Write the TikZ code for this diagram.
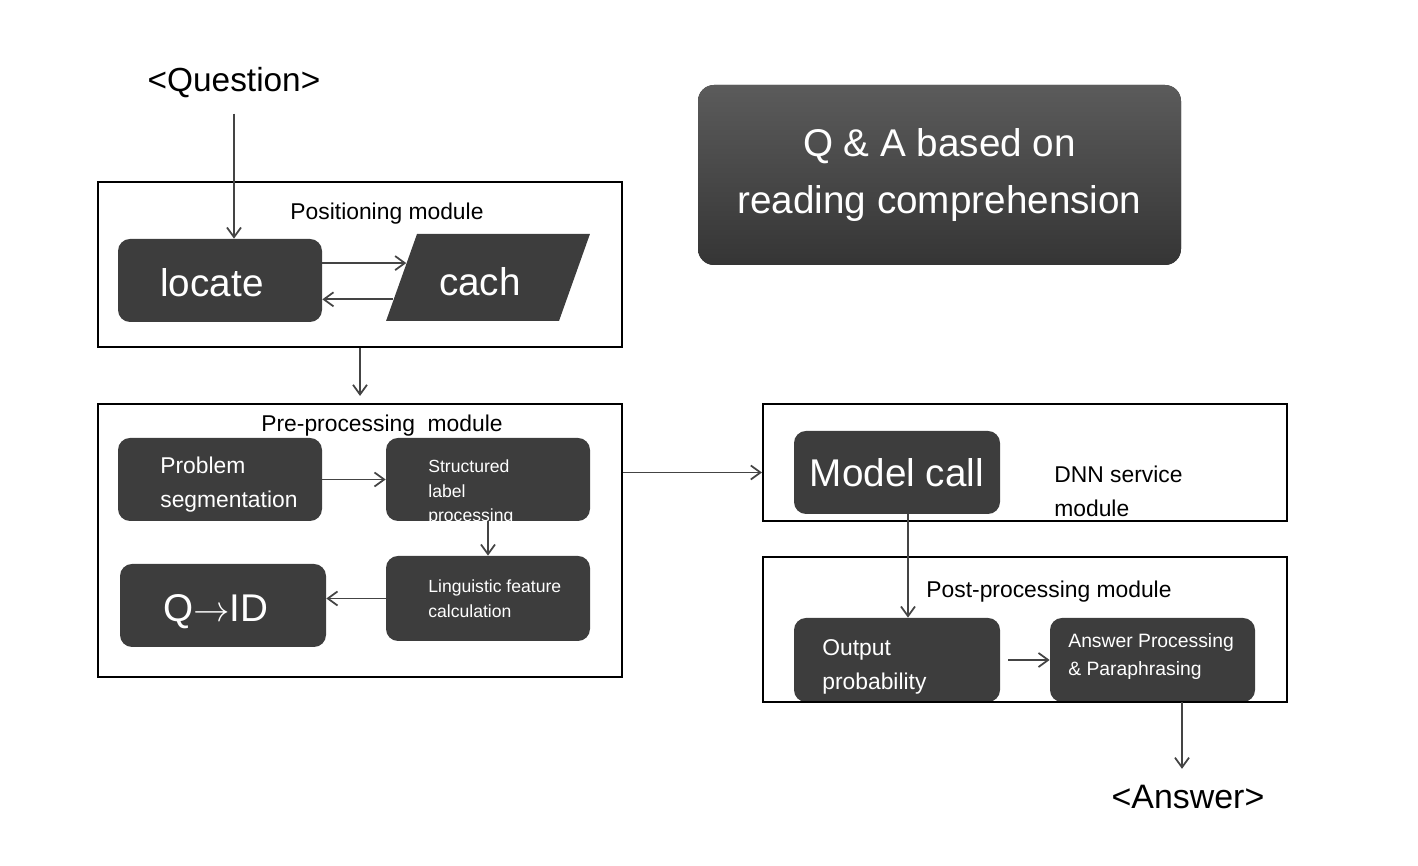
\documentclass[tikz,border=0pt]{standalone}
\usepackage{fontspec}
\setmainfont{Liberation Sans}
\usetikzlibrary{arrows.meta,shapes.geometric}
\definecolor{boxgray}{HTML}{3D3D3D}
\definecolor{arrgray}{HTML}{444444}
\definecolor{titletop}{HTML}{5B5B5B}
\definecolor{titlebot}{HTML}{353535}

\begin{document}
\begin{tikzpicture}[
    frame/.style={draw=black,line width=1.2pt,minimum width=10.48cm},
    dbox/.style={fill=boxgray,rounded corners=0.24cm,minimum width=4.08cm,minimum height=1.66cm},
    arr/.style={-{Straight Barb[length=5.5pt,width=8pt]},draw=arrgray,line width=1pt},
    bigtxt/.style={text=white,font=\fontsize{22}{26}\selectfont,inner sep=0pt},
    midtxt/.style={font=\fontsize{13}{19.3}\selectfont,align=left,inner sep=0pt},
    smalltxt/.style={text=white,font=\fontsize{10}{14.2}\selectfont,align=left,inner sep=0pt}
  ]
  \useasboundingbox (0,0) rectangle (28.36,17.32);

  \node[font=\fontsize{19}{22}\selectfont,inner sep=0pt] (q) at (4.68,15.66) {<Question>};
  \node[font=\fontsize{19.3}{22}\selectfont,inner sep=0pt] (aout) at (23.76,1.38) {<Answer>};

  \node[fill=boxgray,top color=titletop,bottom color=titlebot,rounded corners=0.32cm,
        minimum width=9.66cm,minimum height=3.60cm,text=white,align=center,
        font=\fontsize{22}{32.4}\selectfont] (title) at (18.79,13.82)
        {Q \& A based on\\reading comprehension};

  % positioning
  \node[dbox] (loc) at (4.40,11.71) {};
  \node[bigtxt,anchor=west] (loc-t) at (3.20,11.66) {locate};
  \node[trapezium,trapezium left angle=77.7,trapezium right angle=102.3,trapezium stretches=true,
        fill=boxgray,minimum width=4.08cm,minimum height=1.74cm] (cach) at (9.76,11.77) {};
  \node[bigtxt] (cach-t) at (9.60,11.68) {cach};
  \node[midtxt] (poslbl) at (7.74,13.04) {Positioning module};
  \node[frame,minimum height=3.30cm] (posfr) at (7.20,12.03) {};

  % pre-processing
  \node[dbox] (prob) at (4.40,7.73) {};
  \node[midtxt,text=white,anchor=west] (prob-t) at (3.20,7.62) {Problem\\segmentation};
  \node[dbox] (struct) at (9.76,7.73) {};
  \node[smalltxt,anchor=west] (struct-t) at (8.56,7.47) {Structured\\label\\processing};
  \node[dbox,minimum height=1.70cm] (ling) at (9.76,5.35) {};
  \node[smalltxt,anchor=west] (ling-t) at (8.56,5.35) {Linguistic feature\\calculation};
  \node[dbox,minimum width=4.12cm] (qid) at (4.46,5.21) {};
  \node[bigtxt,anchor=west] (qid-t) at (3.26,5.08) {Q$\rightarrow$ID};
  \node[midtxt] (prelbl) at (7.64,8.80) {Pre-processing\ \ module};
  \node[frame,minimum height=5.46cm] (prefr) at (7.20,6.51) {};

  % DNN service
  \node[dbox,minimum width=4.12cm,bigtxt] (mc) at (17.94,7.87) {Model call};
  \node[midtxt,anchor=west] (dnnlbl) at (21.08,7.49) {DNN service\\module};
  \node[frame,minimum height=2.34cm] (dnnfr) at (20.50,8.07) {};

  % post-processing
  \node[dbox,minimum width=4.12cm,minimum height=1.68cm] (op) at (17.94,4.12) {};
  \node[midtxt,text=white,anchor=west] (op-t) at (16.44,3.98) {Output\\probability};
  \node[dbox,minimum width=4.10cm,minimum height=1.68cm] (ans) at (23.05,4.12) {};
  \node[text=white,font=\fontsize{11}{16}\selectfont,align=left,inner sep=0pt,anchor=west] (ans-t)
        at (21.36,4.19) {Answer Processing\\\& Paraphrasing};
  \node[midtxt] (postlbl) at (20.98,5.48) {Post-processing module};
  \node[frame,minimum height=2.90cm] (postfr) at (20.50,4.73) {};

  \draw[arr,shorten <=0.3cm] (q.south) -- (q.south |- loc.north);
  \draw[arr] (cach.170 -| loc.east) -- (cach.170);
  \draw[arr] (cach.193) -- (cach.193 -| loc.east);
  \draw[arr,shorten >=0.14cm] (posfr.south) -- (prefr.north);
  \draw[arr] (prob.east) -- (struct.west);
  \draw[arr] (struct.south) -- (ling.north);
  \draw[arr] (ling.west) -- (ling.west -| qid.east);
  \draw[arr] (prefr.east |- mc) -- (dnnfr.west |- mc);
  \draw[arr] ([xshift=0.22cm]mc.south) -- ([xshift=0.22cm]op.north);
  \draw[arr,shorten <=0.16cm] (op.east) -- (ans.west);
  \draw[arr,shorten >=0.32cm] ([xshift=0.59cm]ans.south) -- ([xshift=0.59cm]ans.south |- aout.north);
\end{tikzpicture}
\end{document}
